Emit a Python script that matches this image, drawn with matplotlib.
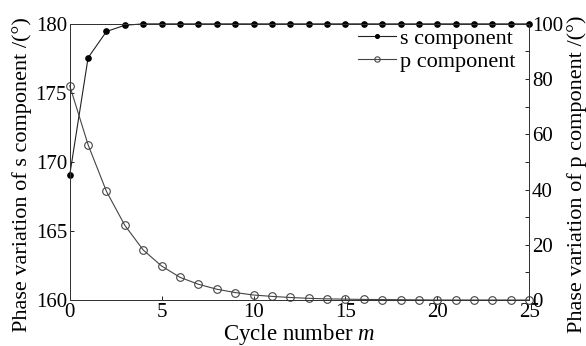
import matplotlib
matplotlib.use("Agg")
import matplotlib.pyplot as plt
from matplotlib.ticker import MultipleLocator

plt.rcParams['font.family'] = ['Liberation Serif', 'DejaVu Serif']
plt.rcParams['mathtext.fontset'] = 'custom'
plt.rcParams['mathtext.it'] = 'Liberation Serif:italic'

# data
cycles = list(range(26))
s_phase = [169.05, 177.55, 179.45, 179.9, 180.0, 180.0, 180.0, 180.0, 180.0, 180.0,
           180.0, 180.0, 180.0, 180.0, 180.0, 180.0, 180.0, 180.0, 180.0, 180.0,
           180.0, 180.0, 180.0, 180.0, 180.0, 180.0]
p_phase = [77.6, 56.2, 39.3, 27.0, 18.1, 12.3, 8.2, 5.7, 3.9, 2.7,
           1.8, 1.3, 0.9, 0.6, 0.4, 0.3, 0.2, 0.15, 0.1, 0.05,
           0.0, 0.0, 0.0, 0.0, 0.0, 0.0]

fig = plt.figure(figsize=(5.86, 3.46), dpi=100)
ax1 = fig.add_axes([0.119, 0.133, 0.784, 0.798])
ax2 = ax1.twinx()

l1, = ax1.plot(cycles, s_phase, color='#222222', lw=0.8, marker='o', ms=3.8,
               mfc='black', mec='black', label='s component', clip_on=False, zorder=3)
l2, = ax2.plot(cycles, p_phase, color='#444444', lw=0.8, marker='o', ms=5.5,
               mfc='none', mec='#444444', mew=0.8, label='p component', clip_on=False)

ax1.set_xlim(0, 25)
ax1.set_ylim(160, 180)
ax2.set_ylim(0, 100)
ax1.xaxis.set_major_locator(MultipleLocator(5))
ax1.yaxis.set_major_locator(MultipleLocator(5))
ax2.yaxis.set_major_locator(MultipleLocator(20))
ax2.yaxis.set_minor_locator(MultipleLocator(10))

fs = 15
lfs = 16
ax1.tick_params(axis='both', direction='in', length=3, width=0.6, labelsize=fs, pad=2)
ax2.tick_params(axis='y', which='both', direction='in', length=3, width=0.6, labelsize=fs, pad=2)
for ax in (ax1, ax2):
    for sp in ax.spines.values():
        sp.set_linewidth(0.7)
        sp.set_color('#333333')

ax1.set_xlabel('Cycle number $m$', fontsize=16.5, labelpad=0)
ax1.set_ylabel('Phase variation of s component /(°)', fontsize=lfs)
ax2.set_ylabel('Phase variation of p component /(°)', fontsize=lfs)
ax1.yaxis.set_label_coords(-0.082, 0.455)
ax2.yaxis.set_label_coords(1.083, 0.455)

leg = ax1.legend([l1, l2], ['s component', 'p component'], loc='upper right',
                 frameon=False, fontsize=16, handlelength=1.7, handletextpad=0.2,
                 markerscale=0.7, borderaxespad=0.0, labelspacing=0.1,
                 bbox_to_anchor=(0.99, 1.015))

fig.savefig('out.png', dpi=100)
